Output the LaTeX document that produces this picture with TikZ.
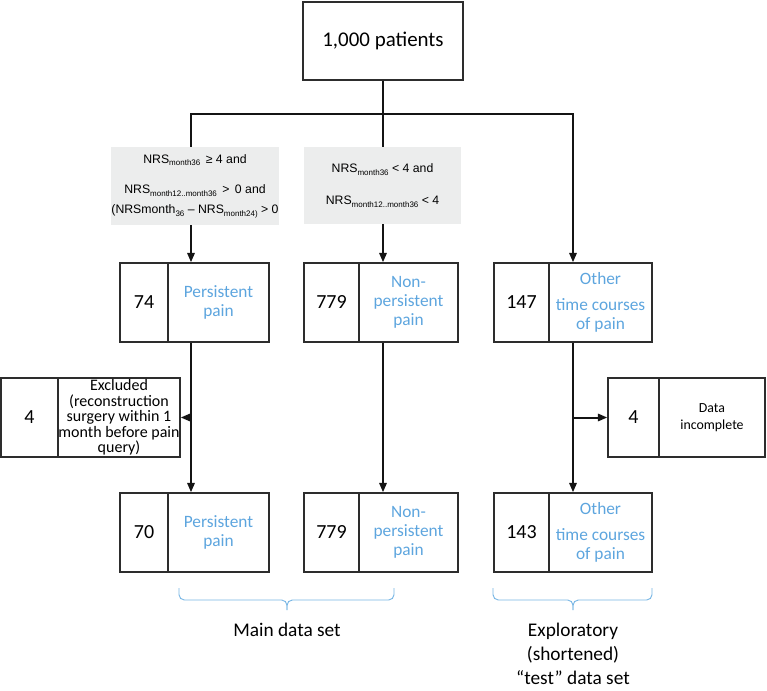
\documentclass[tikz,border=0pt]{standalone}
\usepackage{fontspec}
\setmainfont{Carlito}
\newfontfamily\condfont{Liberation Sans}
\usetikzlibrary{arrows.meta}
\definecolor{bluetxt}{RGB}{93,165,222}
\definecolor{bracec}{RGB}{120,182,228}
\definecolor{greyfill}{RGB}{236,237,237}
\definecolor{linec}{RGB}{20,20,20}
\definecolor{boxc}{RGB}{45,45,45}
\newcommand{\sbs}[1]{\raisebox{-0.35ex}{\fontsize{6}{6}\selectfont #1}}
\tikzset{
  cell/.style={draw=boxc, line width=1.1pt, inner sep=0pt, align=center, minimum height=59.25pt},
  num/.style={cell, font=\fontsize{15}{17}\selectfont},
  lab/.style={cell, text=bluetxt, font=\fontsize{13}{14.3}\selectfont},
  excl/.style={cell, font=\fontsize{12}{11.6}\selectfont},
  conn/.style={line width=1.5pt, draw=linec},
  arr/.style={conn, -{Triangle[length=7pt,width=5.5pt]}},
  cond/.style={fill=greyfill, inner sep=0pt, align=center, font=\condfont\fontsize{9.2}{15}\selectfont},
  brc/.style={draw=bracec, line width=0.7pt, rounded corners=4pt},
  foot/.style={align=center, font=\fontsize{14.5}{18}\selectfont, inner sep=0pt}
}
\begin{document}
\begin{tikzpicture}[x=0.75pt,y=-0.75pt]
\useasboundingbox (0,0) rectangle (767,691);
% top box
\node[cell, minimum width=120pt, minimum height=58.5pt, font=\fontsize{15.7}{18}\selectfont] (top) at (383,41) {1,000 patients};
% row 1
\node[num, minimum width=36pt] (A1) at (144,302.5) {74};
\node[lab, minimum width=75.75pt] (A2) at (218.5,302.5) {Persistent\\pain};
\node[num, minimum width=41.25pt] (B1) at (331.5,302.5) {779};
\node[lab, minimum width=74.25pt] (B2) at (408.5,302.5) {Non-\\persistent\\pain};
\node[num, minimum width=41.25pt] (C1) at (521.5,302.5) {147};
\node[lab, minimum width=77.25pt] (C2) at (600.5,302.5) {Other\\[5pt]time courses\\of pain};
% exclusions
\node[num, minimum width=42.75pt] (XL1) at (29.5,417.5) {4};
\node[excl, minimum width=91.5pt] (XL2) at (119,417.5) {Excluded\\(reconstruction\\surgery within 1\\month before pain\\query)};
\node[num, minimum width=38.25pt] (XR1) at (633.5,417.5) {4};
\node[cell, minimum width=79.5pt, font=\fontsize{10.4}{12.9}\selectfont] (XR2) at (712,417.5) {Data\\incomplete};
% row 2
\node[num, minimum width=36pt] (D1) at (144,532.5) {70};
\node[lab, minimum width=75.75pt] (D2) at (218.5,532.5) {Persistent\\pain};
\node[num, minimum width=41.25pt] (E1) at (331.5,532.5) {779};
\node[lab, minimum width=74.25pt] (E2) at (408.5,532.5) {Non-\\persistent\\pain};
\node[num, minimum width=41.25pt] (F1) at (521.5,532.5) {143};
\node[lab, minimum width=77.25pt] (F2) at (600.5,532.5) {Other\\[5pt]time courses\\of pain};
% connectors
\coordinate (hL) at (191,114);
\coordinate (hR) at (573,114);
\draw[arr] (top.south) -- (top.south |- hL) -- (hL) -- (hL |- A2.north);
\draw[arr] (top.south |- hL) -- (hR) -- (hR |- C2.north);
\draw[arr] (top.south) -- (top.south |- B2.north);
\draw[arr] (hL |- A2.south) -- (hL |- D2.north);
\draw[arr] (hL |- XL2.east) -- (XL2.east);
\draw[arr] (top.south |- B2.south) -- (top.south |- E2.north);
\draw[arr] (hR |- C2.south) -- (hR |- F2.north);
\draw[arr] (hR |- XR1.west) -- (XR1.west);
% condition boxes (over the lines)
\node[cond, minimum width=112.5pt, minimum height=58.5pt] (G1) at (195,186) {NRS\sbs{month36}\, ≥ 4 and\\[8pt]NRS\sbs{month12..month36}\, >\, 0 and\\(NRSmonth\sbs{36} – NRS\sbs{month24)} > 0};
\node[cond, minimum width=117.75pt, minimum height=57.75pt] (G2) at (382.5,185.5) {NRS\sbs{month36} < 4 and\\[9pt]NRS\sbs{month12..month36} < 4};
% braces
\coordinate (b1a) at (179,588);
\coordinate (b1m) at (287,610);
\coordinate (b1b) at (394,588);
\coordinate (b2a) at (493,588);
\coordinate (b2m) at (573,610);
\coordinate (b2b) at (652,588);
\draw[brc] (b1a) -- (b1a |- 0,600) -- (b1m |- 0,600) -- (b1m);
\draw[brc] (b1m) -- (b1m |- 0,600) -- (b1b |- 0,600) -- (b1b);
\draw[brc] (b2a) -- (b2a |- 0,600) -- (b2m |- 0,600) -- (b2m);
\draw[brc] (b2m) -- (b2m |- 0,600) -- (b2b |- 0,600) -- (b2b);
\node[foot] (L1) at (287,630) {Main data set};
\node[foot] (L2) at (573,654) {Exploratory\\(shortened)\\“test” data set};
\end{tikzpicture}
\end{document}
